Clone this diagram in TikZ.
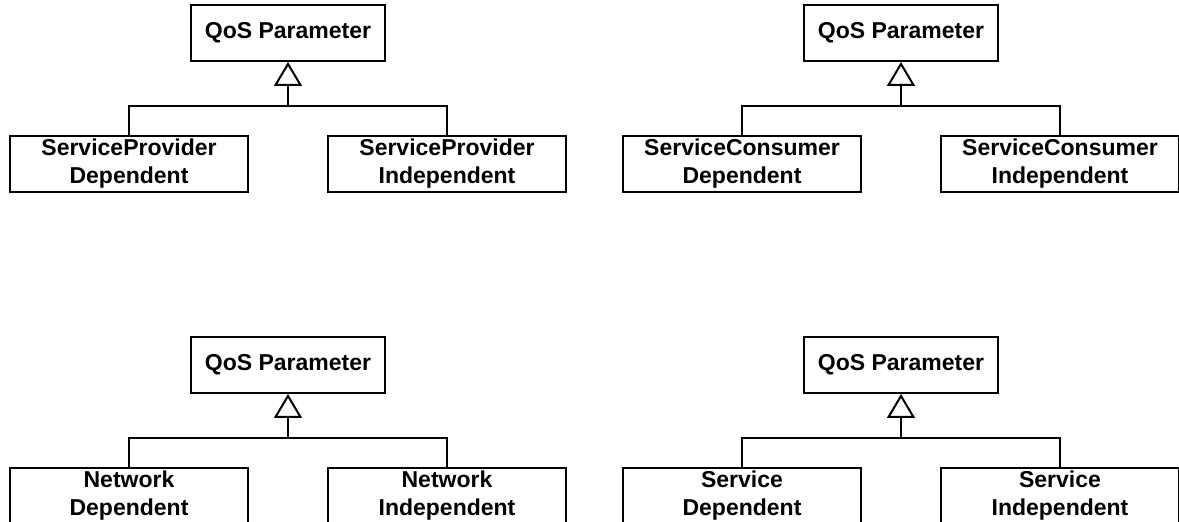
\documentclass[tikz,border=0pt]{standalone}
\usepackage{fontspec}
\setmainfont{Liberation Sans}
\usetikzlibrary{arrows.meta}

\tikzset{
  box/.style={draw,line width=1pt,font=\fontsize{11.5}{14}\selectfont\bfseries,align=center,inner sep=1pt,minimum height=28pt},
  parentbox/.style={box,minimum width=97pt},
  childbox/.style={box,minimum width=119pt},
  inherit/.style={line width=1pt,-{Triangle[open,width=14pt,length=12pt,line width=1pt]}}
}

\begin{document}
\begin{tikzpicture}[x=0.5pt,y=0.5pt]
\useasboundingbox (0,0) rectangle (1179,-522);
% provider
\node[parentbox] (qa) at (288,-33) {QoS Parameter};
\node[childbox] (spd) at (129,-164) {ServiceProvider\\Dependent};
\node[childbox] (spi) at (447,-164) {ServiceProvider\\Independent};
\coordinate (ja) at (288,-106);
\draw[line width=1pt] (spd.north) |- (ja) -| (spi.north);
\draw[inherit] (ja) -- (qa.south);
% consumer
\node[parentbox] (qb) at (901,-33) {QoS Parameter};
\node[childbox] (scd) at (742,-164) {ServiceConsumer\\Dependent};
\node[childbox] (sci) at (1060,-164) {ServiceConsumer\\Independent};
\coordinate (jb) at (901,-106);
\draw[line width=1pt] (scd.north) |- (jb) -| (sci.north);
\draw[inherit] (jb) -- (qb.south);
% network
\node[parentbox] (qc) at (288,-365) {QoS Parameter};
\node[childbox] (nd) at (129,-496) {Network\\Dependent};
\node[childbox] (ni) at (447,-496) {Network\\Independent};
\coordinate (jc) at (288,-438);
\draw[line width=1pt] (nd.north) |- (jc) -| (ni.north);
\draw[inherit] (jc) -- (qc.south);
% service
\node[parentbox] (qd) at (901,-365) {QoS Parameter};
\node[childbox] (sd) at (742,-496) {Service\\Dependent};
\node[childbox] (si) at (1060,-496) {Service\\Independent};
\coordinate (jd) at (901,-438);
\draw[line width=1pt] (sd.north) |- (jd) -| (si.north);
\draw[inherit] (jd) -- (qd.south);
\end{tikzpicture}
\end{document}
